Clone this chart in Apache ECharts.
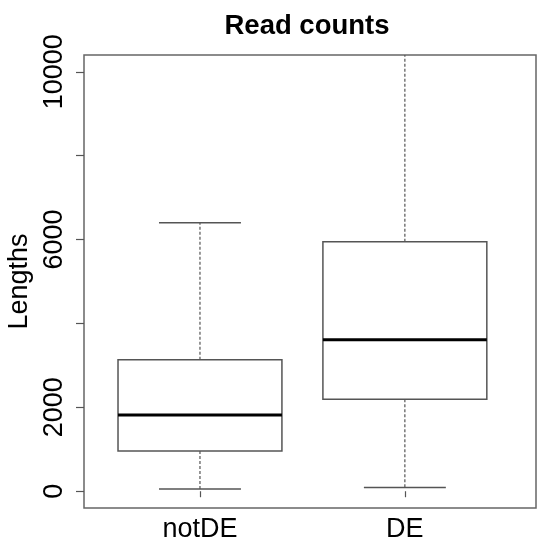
<!DOCTYPE html>
<html>
<head>
<meta charset="utf-8">
<script src="https://cdn.jsdelivr.net/npm/echarts@6/dist/echarts.min.js"></script>
<style>
  html, body { margin: 0; padding: 0; background: #fff; }
  #chart { width: 537px; height: 552px; }
</style>
</head>
<body>
<div id="chart"></div>
<script>
// Box-and-whisker summary of read lengths per group
const categories = ['notDE', 'DE'];
const lowerWhisker = [55, 88];
const lowerQuartile = [960, 2190];
const medianValue = [1817, 3612];
const upperQuartile = [3136, 5945];
const upperWhisker = [6398, 11200];

const yTicks = [0, 2000, 4000, 6000, 8000, 10000];
const yLabels = [0, 2000, 6000, 10000];

const FONT = 'Liberation Sans, Arial, Helvetica, sans-serif';

const boxData = categories.map((c, i) => [
  i + 1, lowerWhisker[i], lowerQuartile[i], medianValue[i], upperQuartile[i], upperWhisker[i]
]);

function renderBox(params, api) {
  const x = api.value(0);
  const lo = api.value(1), q1 = api.value(2), md = api.value(3), q3 = api.value(4), hi = api.value(5);
  const halfBox = api.size([0.8, 0])[0] / 2;
  const halfCap = api.size([0.4, 0])[0] / 2;
  const pLo = api.coord([x, lo]);
  const pQ1 = api.coord([x, q1]);
  const pMd = api.coord([x, md]);
  const pQ3 = api.coord([x, q3]);
  const pHi = api.coord([x, hi]);
  const cx = pMd[0];
  const lineCol = '#555';
  const dashStyle = { stroke: lineCol, lineWidth: 1.2, lineDash: [3, 2] };
  const solid = { stroke: lineCol, lineWidth: 1.5 };
  return {
    type: 'group',
    children: [
      { type: 'line', shape: { x1: cx, y1: pQ3[1], x2: cx, y2: pHi[1] }, style: dashStyle },
      { type: 'line', shape: { x1: cx, y1: pQ1[1], x2: cx, y2: pLo[1] }, style: dashStyle },
      { type: 'line', shape: { x1: cx - halfCap, y1: pHi[1], x2: cx + halfCap, y2: pHi[1] }, style: solid },
      { type: 'line', shape: { x1: cx - halfCap, y1: pLo[1], x2: cx + halfCap, y2: pLo[1] }, style: solid },
      { type: 'rect', shape: { x: cx - halfBox, y: pQ3[1], width: halfBox * 2, height: pQ1[1] - pQ3[1] },
        style: { fill: '#fff', stroke: lineCol, lineWidth: 1.5 } },
      { type: 'line', shape: { x1: cx - halfBox, y1: pMd[1], x2: cx + halfBox, y2: pMd[1] },
        style: { stroke: '#000', lineWidth: 3 } }
    ]
  };
}

const chart = echarts.init(document.getElementById('chart'));
chart.setOption({
  backgroundColor: '#fff',
  animation: false,
  title: {
    text: 'Read counts',
    left: 302,
    top: 7,
    textAlign: 'center',
    textStyle: { fontFamily: FONT, fontSize: 27.5, fontWeight: 'bold', color: '#000' }
  },
  grid: {
    left: 84, right: 1, top: 55, bottom: 44,
    outerBoundsMode: 'none',
    containLabel: false,
    show: true, borderColor: '#666', borderWidth: 1.5, backgroundColor: 'transparent'
  },
  xAxis: {
    type: 'value',
    min: 0.434,
    max: 2.64,
    axisLine: { show: false },
    splitLine: { show: false },
    axisTick: { show: true, length: 6, customValues: [1, 2], lineStyle: { color: '#555', width: 1.2 } },
    axisLabel: {
      customValues: [1, 2],
      formatter: v => categories[Math.round(v) - 1] || '',
      fontFamily: FONT, fontSize: 27, color: '#000', margin: 8
    }
  },
  yAxis: {
    type: 'value',
    min: -400,
    max: 10400,
    name: 'Lengths',
    nameLocation: 'middle',
    nameRotate: 90,
    nameGap: 50,
    nameTextStyle: { fontFamily: FONT, fontSize: 27, color: '#000' },
    axisLine: { show: false },
    splitLine: { show: false },
    axisTick: { show: true, length: 8, customValues: yTicks, lineStyle: { color: '#555', width: 1.2 } },
    axisLabel: {
      customValues: yLabels,
      rotate: 90,
      formatter: v => String(v),
      fontFamily: FONT, fontSize: 27, color: '#000', margin: 16
    }
  },
  series: [{
    type: 'custom',
    clip: true,
    renderItem: renderBox,
    encode: { x: 0, y: [1, 2, 3, 4, 5] },
    data: boxData
  }]
});
</script>
</body>
</html>
